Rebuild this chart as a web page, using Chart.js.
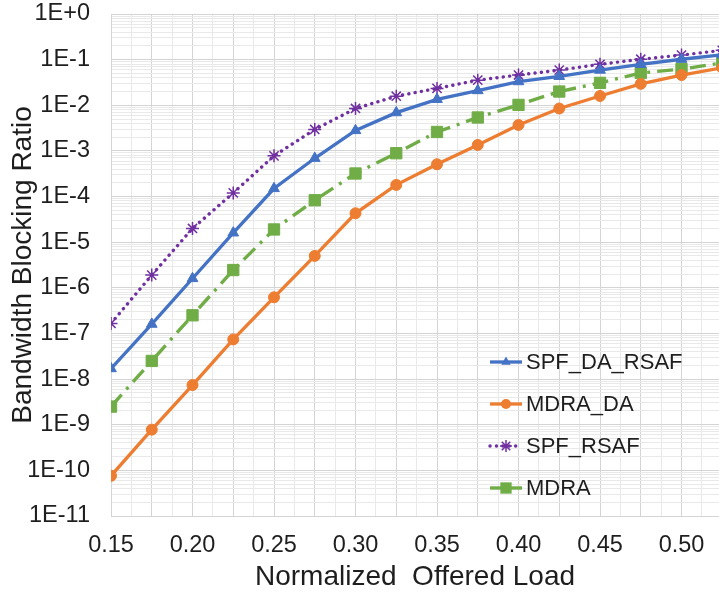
<!DOCTYPE html>
<html lang="en">
<head>
	<meta charset="utf-8">
	<title>Bandwidth Blocking Ratio</title>
	<script src="https://cdn.jsdelivr.net/npm/chart.js@4.4.1/dist/chart.umd.min.js"></script>
	<style type="text/css">
		body { margin: 0; background: #fff; }
		canvas { display: block; }
	</style>
</head>
<body>
<canvas id="bbr-canvas" width="719" height="598"></canvas>
<script type="text/javascript">
	// offered load (x) and blocking ratio per algorithm
	var loads     = [0.15, 0.175, 0.2, 0.225, 0.25, 0.275, 0.3, 0.325, 0.35, 0.375, 0.4, 0.425, 0.45, 0.475, 0.5, 0.525];
	var spfDaRsaf = [1.7e-8, 1.6e-7, 1.6e-6, 1.6e-5, 1.5e-4, 6.9e-4, 2.8e-3, 6.9e-3, 1.35e-2, 2.1e-2, 3.3e-2, 4.3e-2, 5.9e-2, 7.9e-2, 1.02e-1, 1.28e-1];
	var mdraDa    = [7.6e-11, 7.8e-10, 7.4e-9, 7.4e-8, 6.2e-7, 5.0e-6, 4.3e-5, 1.8e-4, 5.1e-4, 1.35e-3, 3.7e-3, 8.5e-3, 1.6e-2, 2.95e-2, 4.6e-2, 6.6e-2];
	var spfRsaf   = [1.66e-7, 1.9e-6, 2.0e-5, 1.2e-4, 7.8e-4, 2.95e-3, 8.5e-3, 1.58e-2, 2.34e-2, 3.55e-2, 4.6e-2, 5.9e-2, 7.9e-2, 1.02e-1, 1.26e-1, 1.6e-1];
	var mdra      = [2.5e-9, 2.5e-8, 2.5e-7, 2.45e-6, 1.9e-5, 8.3e-5, 3.2e-4, 8.9e-4, 2.6e-3, 5.4e-3, 1.02e-2, 2.0e-2, 3.1e-2, 5.1e-2, 6.2e-2, 8.5e-2];

	var seriesNames = ["SPF_DA_RSAF", "MDRA_DA", "SPF_RSAF", "MDRA"];

	// axis ranges / tick steps
	var xMin = 0.15, xMax = 0.523, xStep = 0.0125;
	var yMinExp = -11, yMaxExp = 0;

	var FONT = "'Liberation Sans', Arial, sans-serif";
	var TEXT = "#1e1e1e";
	var GRID_MAJOR = "#d4d4d4";
	var GRID_MINOR = "#e9e9e9";

	function toPoints(values) {
		return loads.map(function(x, i) { return { x: x, y: values[i] }; });
	}

	function isDecade(v) {
		var l = Math.log10(v);
		return Math.abs(l - Math.round(l)) < 1e-6;
	}

	// legend drawn inside the plot area, like the original
	function drawMarker(ctx, style, x, y, r, color) {
		ctx.save();
		ctx.setLineDash([]);
		ctx.fillStyle = color;
		ctx.strokeStyle = color;
		ctx.beginPath();
		if (style === "triangle") {
			ctx.moveTo(x, y - r);
			ctx.lineTo(x + r * 0.866, y + r * 0.5);
			ctx.lineTo(x - r * 0.866, y + r * 0.5);
			ctx.closePath();
			ctx.fill();
		} else if (style === "circle") {
			ctx.arc(x, y, r, 0, Math.PI * 2);
			ctx.fill();
		} else if (style === "rect") {
			var s = r / Math.SQRT2;
			ctx.rect(x - s, y - s, 2 * s, 2 * s);
			ctx.fill();
		} else if (style === "star") {
			ctx.lineWidth = 1.5;
			for (var k = 0; k < 4; k++) {
				var a = k * Math.PI / 4;
				ctx.moveTo(x - r * Math.cos(a), y - r * Math.sin(a));
				ctx.lineTo(x + r * Math.cos(a), y + r * Math.sin(a));
			}
			ctx.stroke();
		}
		ctx.restore();
	}

	var insideLegend = {
		id: "insideLegend",
		afterDatasetsDraw: function(chart) {
			var ctx = chart.ctx;
			var area = chart.chartArea;
			var x0 = area.right - 229;
			var y0 = area.top + 348;
			var rowH = 42;
			ctx.save();
			ctx.font = "22px " + FONT;
			ctx.textBaseline = "middle";
			ctx.fillStyle = TEXT;
			chart.data.datasets.forEach(function(ds, i) {
				var y = y0 + i * rowH;
				ctx.save();
				ctx.strokeStyle = ds.borderColor;
				ctx.lineWidth = ds.borderWidth;
				ctx.lineCap = ds.legendCap || "butt";
				ctx.setLineDash(ds.legendDash || []);
				ctx.beginPath();
				ctx.moveTo(x0, y);
				ctx.lineTo(x0 + 32, y);
				ctx.stroke();
				ctx.restore();
				drawMarker(ctx, ds.pointStyle, x0 + 16, y, ds.legendRadius, ds.borderColor);
				ctx.fillStyle = TEXT;
				ctx.fillText(ds.label, x0 + 36, y + 1);
			});
			ctx.restore();
		}
	};

	var chartData = {
		datasets: [{
			label: seriesNames[0],
			data: toPoints(spfDaRsaf),
			borderColor: "#4472C4",
			backgroundColor: "#4472C4",
			borderWidth: 3.3,
			pointStyle: "triangle",
			pointRadius: 6.2,
			pointBorderWidth: 1,
			legendRadius: 5.5
		}, {
			label: seriesNames[1],
			data: toPoints(mdraDa),
			borderColor: "#ED7D31",
			backgroundColor: "#ED7D31",
			borderWidth: 3.3,
			pointStyle: "circle",
			pointRadius: 5.5,
			pointBorderWidth: 1,
			legendRadius: 5
		}, {
			label: seriesNames[2],
			data: toPoints(spfRsaf),
			borderColor: "#7030A0",
			backgroundColor: "#7030A0",
			borderWidth: 3.4,
			borderDash: [0.1, 6.3],
			borderCapStyle: "round",
			legendDash: [0.1, 6.3],
			legendCap: "round",
			pointStyle: "star",
			pointRadius: 6.5,
			pointBorderWidth: 1.5,
			legendRadius: 6
		}, {
			label: seriesNames[3],
			data: toPoints(mdra),
			borderColor: "#70AD47",
			backgroundColor: "#70AD47",
			borderWidth: 3.4,
			borderDash: [16, 7, 3, 7],
			pointStyle: "rect",
			pointRadius: 8,
			pointBorderWidth: 1,
			legendRadius: 8
		}]
	};

	var bbrChart = new Chart(document.getElementById("bbr-canvas").getContext("2d"), {
		type: "line",
		data: chartData,
		plugins: [insideLegend],
		options: {
			responsive: false,
			animation: false,
			layout: { autoPadding: false, padding: { left: 0, right: 0, top: 0, bottom: 0 } },
			elements: { line: { tension: 0 } },
			plugins: {
				legend: { display: false },
				tooltip: { enabled: false }
			},
			scales: {
				x: {
					type: "linear",
					min: xMin,
					max: xMax,
					afterBuildTicks: function(scale) {
						var ticks = [];
						for (var k = 0; ; k++) {
							var v = Math.round((xMin + k * xStep) * 10000) / 10000;
							if (v > xMax) break;
							ticks.push({ value: v });
						}
						scale.ticks = ticks;
					},
					afterFit: function(scale) {
						scale.height = 82;
						scale.paddingLeft = 0;
						scale.paddingRight = 0;
					},
					grid: {
						drawTicks: false,
						color: function(c) {
							if (!c.tick) return GRID_MAJOR;
							return Math.round(c.tick.value * 1000) % 25 === 0 ? GRID_MAJOR : GRID_MINOR;
						}
					},
					border: { color: GRID_MAJOR },
					ticks: {
						autoSkip: false,
						maxRotation: 0,
						padding: 15,
						color: TEXT,
						font: { family: FONT, size: 23.5 },
						callback: function(v) {
							return Math.round(v * 1000) % 50 === 0 ? v.toFixed(2) : "";
						}
					},
					title: {
						display: true,
						text: "Normalized  Offered Load",
						color: TEXT,
						padding: { top: 4, bottom: 4 },
						font: { family: FONT, size: 28 }
					}
				},
				y: {
					type: "logarithmic",
					min: Math.pow(10, yMinExp),
					max: Math.pow(10, yMaxExp),
					afterBuildTicks: function(scale) {
						var ticks = [];
						for (var e = yMinExp; e <= yMaxExp; e++) {
							for (var m = 1; m <= 9; m++) {
								if (e === yMaxExp && m > 1) break;
								ticks.push({ value: m * Math.pow(10, e) });
							}
						}
						scale.ticks = ticks;
					},
					afterFit: function(scale) {
						scale.width = 111;
						scale.paddingTop = 14;
						scale.paddingBottom = 0;
					},
					grid: {
						drawTicks: false,
						color: function(c) {
							if (!c.tick) return GRID_MAJOR;
							return isDecade(c.tick.value) ? GRID_MAJOR : GRID_MINOR;
						}
					},
					border: { color: GRID_MAJOR },
					ticks: {
						autoSkip: false,
						padding: 21,
						color: TEXT,
						font: { family: FONT, size: 23.5 },
						callback: function(v) {
							if (!isDecade(v)) return "";
							var e = Math.round(Math.log10(v));
							return e >= 0 ? "1E+" + e : "1E" + e;
						}
					},
					title: {
						display: true,
						text: "Bandwidth Blocking Ratio",
						color: TEXT,
						padding: { top: 6, bottom: 6 },
						font: { family: FONT, size: 28 }
					}
				}
			}
		}
	});
</script>
</body>
</html>
